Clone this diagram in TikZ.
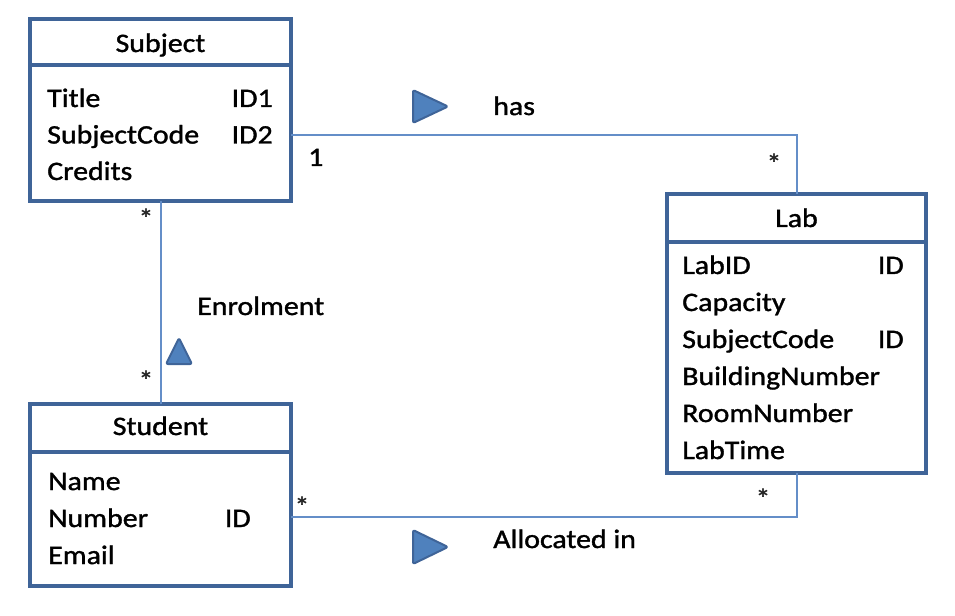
\documentclass[tikz,border=0pt]{standalone}
\usepackage{fontspec}
\setmainfont{Carlito}[FakeStretch=1.12,FakeBold=1.3]
\definecolor{umlborder}{RGB}{63,100,152}
\definecolor{umlline}{RGB}{100,142,200}
\definecolor{umlfill}{RGB}{79,129,189}
\newcommand{\umlfont}{\fontsize{20pt}{24pt}\selectfont}
\tikzset{
  classbox/.style={draw=umlborder, line width=3pt, fill=white, inner sep=0pt, outer sep=0pt},
  headbox/.style={draw=umlborder, line width=3pt, inner sep=0pt, outer sep=0pt},
  headtext/.style={anchor=base, inner sep=0pt, font=\umlfont},
  attr/.style={anchor=base west, inner sep=0pt, font=\umlfont},
  attrkey/.style={anchor=base east, inner sep=0pt, font=\umlfont},
  mult/.style={inner sep=0pt, font=\umlfont, text=black!85},
  assoc/.style={draw=umlline, line width=1.5pt},
  dirmark/.style={draw=umlborder, fill=umlfill, line width=1.5pt, line join=round, rounded corners=1.5pt}
}
\begin{document}
\begin{tikzpicture}[x=0.75pt,y=0.75pt,yscale=-1,xscale=1]
\useasboundingbox (0,0) rectangle (955,616);

%Class: Subject
\node[classbox, minimum width=195.75pt, minimum height=136.5pt] (subject) at (160.5,110) {};
\node[headbox, minimum width=195.75pt, minimum height=34.5pt, anchor=north] (subjecthead) at (subject.north) {};
\node[headtext] (subjecttitle) at (160.5,52) {Subject};
\node[attr] (subjecta1) at (47,107) {Title};
\node[attrkey] (subjectk1) at (273,107) {ID1};
\node[attr] (subjecta2) at (47,143.5) {SubjectCode};
\node[attrkey] (subjectk2) at (273,143.5) {ID2};
\node[attr] (subjecta3) at (47,180) {Credits};

%Class: Lab
\node[classbox, minimum width=194.25pt, minimum height=209.25pt] (lab) at (796.5,333.5) {};
\node[headbox, minimum width=194.25pt, minimum height=36pt, anchor=north] (labhead) at (lab.north) {};
\node[headtext] (labtitle) at (796.5,227) {Lab};
\node[attr] (laba1) at (682,274) {LabID};
\node[attrkey] (labk1) at (904,274) {ID};
\node[attr] (laba2) at (682,311) {Capacity};
\node[attr] (laba3) at (682,348) {SubjectCode};
\node[attrkey] (labk3) at (904,348) {ID};
\node[attr] (laba4) at (682,385) {BuildingNumber};
\node[attr] (laba5) at (682,422) {RoomNumber};
\node[attr] (laba6) at (682,459) {LabTime};

%Class: Student
\node[classbox, minimum width=195.75pt, minimum height=136.5pt] (student) at (160.5,495) {};
\node[headbox, minimum width=195.75pt, minimum height=36pt, anchor=north] (studenthead) at (student.north) {};
\node[headtext] (studenttitle) at (160.5,435) {Student};
\node[attr] (studenta1) at (48,490) {Name};
\node[attr] (studenta2) at (48,527) {Number};
\node[attrkey] (studentk2) at (251,527) {ID};
\node[attr] (studenta3) at (48,564) {Email};

%Association: has
\draw[assoc] ([yshift=18.75pt]subject.east) -| (lab.north);
\draw[dirmark] (413,90) -- (448,106.5) -- (413,123) -- cycle;
\node[attr] (haslabel) at (493,115) {has};
\node[attr] (hasone) at (308,166) {1};
\node[mult] (hasmany) at (774,163) {*};

%Association: Enrolment
\draw[assoc] (subject.south) -- (student.north);
\draw[dirmark] (166,364) -- (179,338) -- (192,364) -- cycle;
\node[attr] (enrollabel) at (197,315) {Enrolment};
\node[mult] (enrolsubj) at (146,218) {*};
\node[mult] (enrolstud) at (146,380) {*};

%Association: Allocated in
\draw[assoc] ([yshift=16.5pt]student.east) -| (lab.south);
\draw[dirmark] (413,530) -- (448,547) -- (413,564) -- cycle;
\node[attr] (alloclabel) at (493,548) {Allocated in};
\node[mult] (allocstud) at (302,506) {*};
\node[mult] (alloclab) at (763,498) {*};
\end{tikzpicture}
\end{document}
